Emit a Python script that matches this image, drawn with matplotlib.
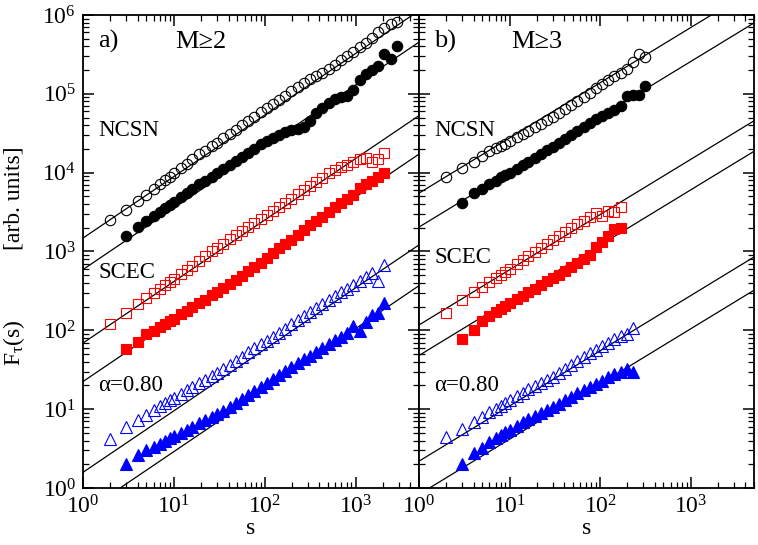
import numpy as np
import matplotlib
matplotlib.use('Agg')
import matplotlib.pyplot as plt
from matplotlib.ticker import LogLocator, NullFormatter

plt.rcParams['font.family'] = ['Liberation Serif', 'DejaVu Serif']
plt.rcParams['mathtext.fontset'] = 'custom'
plt.rcParams['mathtext.rm'] = 'Liberation Serif'
plt.rcParams['mathtext.it'] = 'Liberation Serif:italic'
plt.rcParams['mathtext.default'] = 'regular'

# --- donnees ---
# a) M>=2
s_a = [2, 3, 4, 5, 6, 7, 8, 9, 10, 12, 14, 16, 19, 22, 26, 30, 35, 41, 48, 56, 66, 77, 90,
       105, 123, 144, 168, 197, 230, 270, 315, 369, 432, 505, 591, 692, 809, 947, 1108,
       1296, 1517, 1775, 2076, 2429, 2842]

ncsn_open_a = [2500, 3400, 4350, 5250, 6150, 7100, 8000, 8900, 10000, 11500, 13000, 14800,
               17000, 19000, 21500, 24000, 27500, 31000, 35000, 40000, 45500, 51000, 58000,
               66000, 74000, 83000, 95000, 110000, 121000, 137000, 155000, 167000, 183000,
               208000, 235000, 267000, 300000, 340000, 395000, 445000, 515000, 600000,
               690000, 760000, 815000]
ncsn_fill_a = [1550, 2050, 2450, 2800, 3150, 3550, 3900, 4250, 4900, 5500, 6150, 7100, 7800,
               8900, 10000, 11200, 12600, 14100, 15800, 17800, 20000, 22900, 25100, 27500,
               30200, 32400, 34700, 36300, 38000, 45700, 57500, 66000, 76000, 87000, 91000,
               93000, 112000, 151000, 178000, 200000, 224000, 316000, 275000, 400000]
scec_open_a = [120, 166, 214, 257, 295, 331, 372, 407, 447, 513, 589, 661, 759, 871, 1000,
               1120, 1260, 1450, 1620, 1820, 2040, 2290, 2570, 2880, 3240, 3630, 4070, 4680,
               5370, 6030, 6760, 7590, 8510, 9770, 10700, 11700, 12600, 13800, 15100, 15500,
               13500, 15100, 17800]
scec_fill_a = [58, 72, 89, 97, 110, 121, 130, 141, 159, 178, 195, 224, 245, 282, 309, 347,
               389, 437, 490, 562, 631, 724, 832, 955, 1100, 1260, 1410, 1620, 1860, 2140,
               2450, 2750, 3160, 3630, 4070, 4570, 5250, 6310, 7080, 7940, 8710, 10000]
blue_open_a = [4.2, 5.9, 7.2, 8.5, 9.8, 11.0, 12.0, 12.9, 13.8, 15.5, 17.4, 19.1, 21.4, 23.4,
               26.3, 28.8, 32.4, 36.3, 40.7, 45.7, 52.5, 58.9, 66.1, 74.1, 83.2, 93.3, 105,
               120, 135, 151, 170, 191, 214, 240, 269, 302, 339, 380, 427, 479, 537, 427, 676]
blue_fill_a = [2.0, 2.6, 3.0, 3.3, 3.6, 4.0, 4.3, 4.6, 5.0, 5.5, 6.0, 6.6, 7.2, 7.9, 8.7, 9.5,
               10.7, 12.0, 13.5, 15.1, 17.0, 19.1, 21.4, 24.0, 26.9, 30.2, 33.9, 38.0, 42.7,
               47.9, 53.7, 60.3, 67.6, 75.9, 83.2, 93.3, 112, 97.7, 129, 158, 166, 224]

# b) M>=3
s_b = [2, 3, 4, 5, 6, 7, 8, 9, 10, 12, 14, 16, 19, 22, 26, 30, 35, 41, 48, 56, 66, 77, 90,
       105, 123, 144, 168, 197, 230, 270, 315]

ncsn_open_b = [8700, 11500, 13800, 16200, 18600, 20400, 21900, 23400, 25100, 28200, 30900,
               33900, 38000, 41700, 46800, 51300, 57500, 64600, 72400, 81300, 91200, 102000,
               117000, 132000, 148000, 166000, 186000, 204000, 250000, 320000, 295000]
ncsn_fill_b = [4170, 5500, 6170, 7240, 7940, 8710, 9330, 10000, 11200, 12600, 13800, 15500,
               17000, 19500, 21400, 24000, 26900, 30200, 33900, 38000, 42700, 47900, 52500,
               57500, 63100, 69200, 93300, 97700, 95500, 126000]
scec_open_b = [166, 240, 302, 355, 407, 457, 501, 550, 603, 692, 776, 871, 977, 1100, 1260,
               1410, 1580, 1780, 2000, 2240, 2450, 2750, 3090, 2820, 3310, 3160, 3720]
scec_fill_b = [78, 102, 132, 151, 170, 186, 204, 224, 251, 275, 302, 339, 372, 417, 457, 501,
               562, 631, 708, 794, 912, 1150, 1320, 1550, 1910, 2000]
blue_open_b = [4.4, 5.6, 6.9, 7.9, 9.1, 10.0, 11.0, 12.0, 12.9, 14.5, 16.2, 17.8, 19.5, 21.4,
               23.4, 25.7, 28.8, 32.4, 36.3, 40.7, 45.7, 51.3, 56.2, 63.1, 69.2, 77.6, 85.1,
               89.1, 107]
blue_fill_b = [2.0, 2.75, 3.2, 3.8, 4.3, 4.7, 5.1, 5.5, 6.2, 6.8, 7.4, 8.1, 8.9, 9.8, 10.5,
               11.5, 12.9, 14.1, 15.8, 17.4, 19.1, 20.9, 22.9, 25.7, 28.2, 29.5, 32.4, 29.5]

# droites de pente (loi de puissance) : amplitude a s=1 et exposant
fit_amp_a = [1480, 590, 69, 22.4, 1.58, 0.48]
fit_slope_a = 0.78
fit_amp_b = [5500, 2040, 117, 48, 2.19, 0.83]
fit_slope_b = 0.70

panels = [
    ('a)', 'M≥2', s_a, [ncsn_open_a, ncsn_fill_a, scec_open_a, scec_fill_a,
                        blue_open_a, blue_fill_a], fit_amp_a, fit_slope_a, 0.455),
    ('b)', 'M≥3', s_b, [ncsn_open_b, ncsn_fill_b, scec_open_b, scec_fill_b,
                        blue_open_b, blue_fill_b], fit_amp_b, fit_slope_b, 0.488),
]

# (marqueur, couleur, rempli, taille)
styles = [('o', 'black', False, 7.5), ('o', 'black', True, 7.5),
          ('s', 'red', False, 7.0), ('s', 'red', True, 7.0),
          ('^', 'blue', False, 8.0), ('^', 'blue', True, 8.0)]

fig = plt.figure(figsize=(7.58, 5.45), dpi=100)
ax_a = fig.add_axes([0.1095, 0.1046, 0.4433, 0.8679])
ax_b = fig.add_axes([0.5528, 0.1046, 0.4419, 0.8679])

x_line = np.array([1.0, 5000.0])

for ax, (lab, mag, s, series, amps, slope, scec_y) in zip([ax_a, ax_b], panels):
    ax.set_xscale('log')
    ax.set_yscale('log')

    for amp in amps:
        ax.plot(x_line, amp * x_line ** slope, color='black', lw=0.9, zorder=1)

    for y, (m, c, filled, ms) in zip(series, styles):
        start = 0 if not filled else 1
        x = s[start:start + len(y)]
        ax.plot(x, y, linestyle='none', marker=m, ms=ms,
                markerfacecolor=c if filled else 'none',
                markeredgecolor=c, markeredgewidth=0.8, zorder=2)

    ax.set_xlim(1, 5000)
    ax.set_ylim(1, 1e6)

    ax.xaxis.set_major_locator(LogLocator(base=10, numticks=10))
    ax.xaxis.set_minor_locator(LogLocator(base=10, subs=np.arange(2, 10), numticks=20))
    ax.yaxis.set_major_locator(LogLocator(base=10, numticks=10))
    ax.yaxis.set_minor_locator(LogLocator(base=10, subs=np.arange(2, 10), numticks=20))
    ax.xaxis.set_minor_formatter(NullFormatter())
    ax.yaxis.set_minor_formatter(NullFormatter())
    ax.tick_params(which='both', direction='in', top=True, right=True, labelsize=17)
    ax.tick_params(which='major', length=8, width=1.1, pad=5)
    ax.tick_params(which='minor', length=4.5, width=0.9)
    for sp in ax.spines.values():
        sp.set_linewidth(1.3)

    ax.set_xlabel('s', fontsize=17, labelpad=0)

    ax.text(0.045, 0.943, lab, transform=ax.transAxes, fontsize=19, va='center', ha='left')
    ax.text(0.275, 0.943, mag, transform=ax.transAxes, fontsize=19, va='center', ha='left')
    ax.text(0.045, 0.755, 'NCSN', transform=ax.transAxes, fontsize=16.5, va='center', ha='left')
    ax.text(0.045, scec_y, 'SCEC', transform=ax.transAxes, fontsize=16.5, va='center', ha='left')
    ax.text(0.045, 0.217, 'α=0.80', transform=ax.transAxes, fontsize=16.5,
            va='center', ha='left')

ax_b.tick_params(axis='y', which='both', labelleft=False)

fig.text(0.019, 0.637, '[arb. units]', rotation=90, fontsize=17, va='center', ha='center')
fig.text(0.019, 0.371, r'F$_\tau$(s)', rotation=90, fontsize=17, va='center', ha='center')

plt.savefig('out.png', dpi=100)
plt.close()
